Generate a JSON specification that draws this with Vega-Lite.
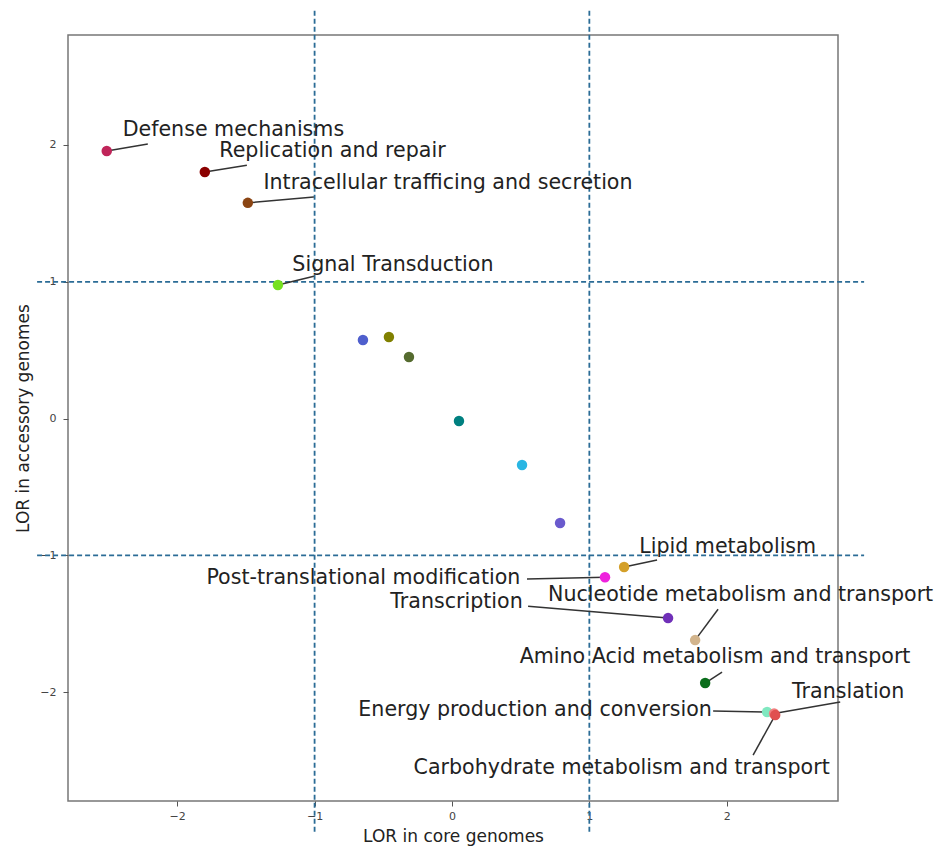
{
  "$schema": "https://vega.github.io/schema/vega-lite/v6.json",
  "width": 770,
  "height": 766,
  "autosize": {"type": "none"},
  "padding": {"left": 68, "top": 35, "right": 98, "bottom": 48},
  "background": "white",
  "config": {
    "font": "DejaVu Sans",
    "view": {"stroke": "#777777", "strokeWidth": 1.5},
    "axis": {
      "grid": false,
      "domain": false,
      "tickColor": "#555555",
      "tickSize": 5,
      "labelFontSize": 11,
      "labelColor": "#444444",
      "titleFontSize": 17,
      "titleFontWeight": "normal",
      "titleColor": "#222222"
    }
  },
  "datasets": {
    "points": [
      {"category": "Defense mechanisms", "x": -2.513, "y": 1.956, "label": "Defense mechanisms", "lx": -1.591, "ly": 2.11, "ex": -2.214, "ey": 2.007},
      {"category": "Replication and repair", "x": -1.799, "y": 1.803, "label": "Replication and repair", "lx": -0.87, "ly": 1.956, "ex": -1.493, "ey": 1.852},
      {"category": "Intracellular trafficing and secretion", "x": -1.486, "y": 1.577, "label": "Intracellular trafficing and secretion", "lx": -0.029, "ly": 1.722, "ex": -1.005, "ey": 1.619},
      {"category": "Signal Transduction", "x": -1.267, "y": 0.977, "label": "Signal Transduction", "lx": -0.43, "ly": 1.123, "ex": -1.005, "ey": 1.041},
      {"category": "Unlabeled A", "x": -0.648, "y": 0.575, "label": null, "lx": null, "ly": null, "ex": null, "ey": null},
      {"category": "Unlabeled B", "x": -0.459, "y": 0.596, "label": null, "lx": null, "ly": null, "ex": null, "ey": null},
      {"category": "Unlabeled C", "x": -0.313, "y": 0.45, "label": null, "lx": null, "ly": null, "ex": null, "ey": null},
      {"category": "Unlabeled D", "x": 0.051, "y": -0.018, "label": null, "lx": null, "ly": null, "ex": null, "ey": null},
      {"category": "Unlabeled E", "x": 0.51, "y": -0.339, "label": null, "lx": null, "ly": null, "ex": null, "ey": null},
      {"category": "Unlabeled F", "x": 0.787, "y": -0.763, "label": null, "lx": null, "ly": null, "ex": null, "ey": null},
      {"category": "Lipid metabolism", "x": 1.253, "y": -1.085, "label": "Lipid metabolism", "lx": 2.007, "ly": -0.94, "ex": 1.493, "ey": -1.034},
      {"category": "Post-translational modification", "x": 1.114, "y": -1.159, "label": "Post-translational modification", "lx": -0.645, "ly": -1.165, "ex": 0.546, "ey": -1.172},
      {"category": "Transcription", "x": 1.573, "y": -1.458, "label": "Transcription", "lx": 0.033, "ly": -1.342, "ex": 0.554, "ey": -1.371},
      {"category": "Nucleotide metabolism and transport", "x": 1.77, "y": -1.619, "label": "Nucleotide metabolism and transport", "lx": 2.101, "ly": -1.289, "ex": 1.937, "ey": -1.393},
      {"category": "Amino Acid metabolism and transport", "x": 1.843, "y": -1.933, "label": "Amino Acid metabolism and transport", "lx": 1.915, "ly": -1.743, "ex": 1.966, "ey": -1.853},
      {"category": "Energy production and conversion", "x": 2.294, "y": -2.145, "label": "Energy production and conversion", "lx": 0.605, "ly": -2.13, "ex": 1.901, "ey": -2.137},
      {"category": "Translation", "x": 2.345, "y": -2.155, "label": "Translation", "lx": 2.884, "ly": -1.999, "ex": 2.826, "ey": -2.072},
      {"category": "Carbohydrate metabolism and transport", "x": 2.353, "y": -2.167, "label": "Carbohydrate metabolism and transport", "lx": 1.235, "ly": -2.554, "ex": 2.192, "ey": -2.459}
    ],
    "guides": [
      {"x": -1, "x2": -1, "y": -3.02, "y2": 3.0},
      {"x": 1, "x2": 1, "y": -3.02, "y2": 3.0},
      {"x": -3.02, "x2": 3.0, "y": 1, "y2": 1},
      {"x": -3.02, "x2": 3.0, "y": -1, "y2": -1}
    ]
  },
  "layer": [
    {
      "data": {"name": "guides"},
      "mark": {"type": "rule", "clip": false, "color": "#2b6c96", "strokeWidth": 1.8, "strokeDash": [5, 3]},
      "encoding": {
        "x": {"field": "x", "type": "quantitative", "scale": {"domain": [-2.795, 2.81], "nice": false, "zero": false}, "axis": {"values": [-2, -1, 0, 1, 2], "format": "d", "title": "LOR in core genomes", "labelPadding": 4, "titlePadding": 7}},
        "x2": {"field": "x2"},
        "y": {"field": "y", "type": "quantitative", "scale": {"domain": [-2.795, 2.804], "nice": false, "zero": false}, "axis": {"values": [-2, -1, 0, 1, 2], "format": "d", "title": "LOR in accessory genomes", "labelPadding": 7, "titlePadding": 7}},
        "y2": {"field": "y2"}
      }
    },
    {
      "data": {"name": "points"},
      "transform": [{"filter": "datum.label != null"}],
      "mark": {"type": "rule", "color": "#333333", "strokeWidth": 1.5, "clip": false},
      "encoding": {
        "x": {"field": "x", "type": "quantitative"},
        "y": {"field": "y", "type": "quantitative"},
        "x2": {"field": "ex"},
        "y2": {"field": "ey"}
      }
    },
    {
      "data": {"name": "points"},
      "mark": {"type": "circle", "size": 110, "opacity": 1},
      "encoding": {
        "x": {"field": "x", "type": "quantitative"},
        "y": {"field": "y", "type": "quantitative"},
        "color": {
          "field": "category",
          "type": "nominal",
          "legend": null,
          "scale": {
            "domain": ["Defense mechanisms", "Replication and repair", "Intracellular trafficing and secretion", "Signal Transduction", "Unlabeled A", "Unlabeled B", "Unlabeled C", "Unlabeled D", "Unlabeled E", "Unlabeled F", "Lipid metabolism", "Post-translational modification", "Transcription", "Nucleotide metabolism and transport", "Amino Acid metabolism and transport", "Energy production and conversion", "Translation", "Carbohydrate metabolism and transport"],
            "range": ["#c0255a", "#8b0000", "#8b4513", "#76e021", "#4f5fcd", "#808000", "#556b2f", "#008080", "#29b6e3", "#6a5acd", "#d4a02a", "#ee22dd", "#7030b8", "#d2b48c", "#0b6e1c", "#80e8c0", "#f08080", "#e05050"]
          }
        }
      }
    },
    {
      "data": {"name": "points"},
      "transform": [{"filter": "datum.label != null"}],
      "mark": {"type": "text", "fontSize": 20.6, "color": "#222222", "align": "center", "baseline": "middle", "clip": false},
      "encoding": {
        "x": {"field": "lx", "type": "quantitative"},
        "y": {"field": "ly", "type": "quantitative"},
        "text": {"field": "label"}
      }
    }
  ]
}
